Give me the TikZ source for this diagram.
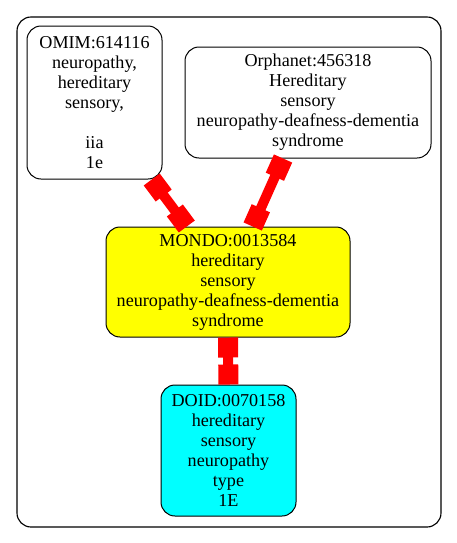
\documentclass[tikz,border=0pt]{standalone}
\usepackage{fontspec}
\setmainfont{Liberation Serif}
\usetikzlibrary{arrows.meta}
\definecolor{aquafill}{RGB}{0,255,255}
\definecolor{yellowfill}{RGB}{255,255,0}
\definecolor{redline}{RGB}{255,0,0}
\tikzset{
  nodebox/.style={draw=black, line width=0.75pt, rounded corners=10.5pt, align=center,
    inner sep=0pt, font=\fontsize{13.6pt}{15pt}\selectfont},
  redlink/.style={draw=redline, line width=7.5pt,
    {Square[length=15pt,width=15pt]}-{Square[length=15pt,width=15pt]}},
  cluster/.style={draw=black, line width=0.85pt, rounded corners=10.5pt}
}
\begin{document}
\begin{tikzpicture}[x=0.75pt,y=-0.75pt]
\useasboundingbox (0,0) rectangle (457,543);
\draw[cluster] (17,17) rectangle (441,527);
\node[nodebox, fill=white, minimum width={135*0.75pt}, minimum height={153*0.75pt}] (omim) at (94.5,102.5)
  {OMIM:614116\\neuropathy,\\hereditary\\sensory,\\\strut\\iia\\1e};
\node[nodebox, fill=white, minimum width={246*0.75pt}, minimum height={111*0.75pt}] (orpha) at (308,102.5)
  {Orphanet:456318\\Hereditary\\sensory\\neuropathy-deafness-dementia\\syndrome};
\node[nodebox, fill=yellowfill, minimum width={244*0.75pt}, minimum height={110*0.75pt}] (mondo) at (228,282)
  {MONDO:0013584\\hereditary\\sensory\\neuropathy-deafness-dementia\\syndrome};
\node[nodebox, fill=aquafill, minimum width={135*0.75pt}, minimum height={131*0.75pt}] (doid) at (228.5,450.5)
  {DOID:0070158\\hereditary\\sensory\\neuropathy\\type\\1E};
\draw[redlink] (omim) -- (mondo);
\draw[redlink] (orpha) -- (mondo);
\draw[redlink] (mondo) -- (doid);
\end{tikzpicture}
\end{document}
